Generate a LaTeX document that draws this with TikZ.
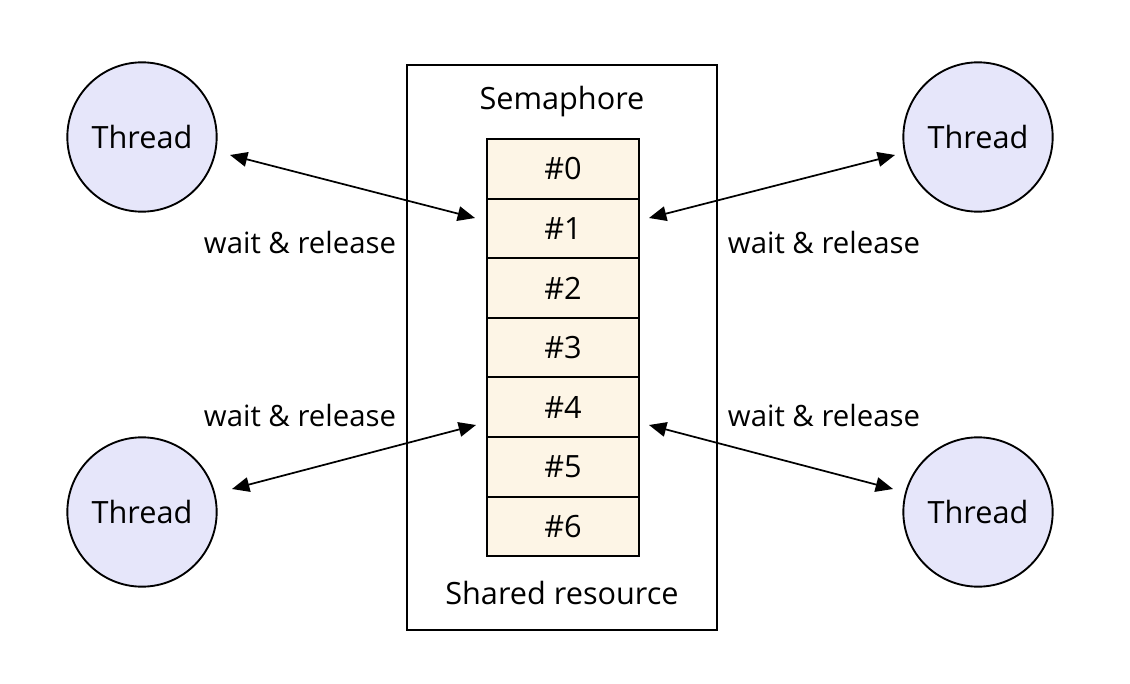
\documentclass[tikz,border=0pt]{standalone}
\usepackage{fontspec}
\setmainfont{Open Sans}
\usetikzlibrary{arrows.meta}
\definecolor{threadfill}{HTML}{E6E6FA}
\definecolor{cellfill}{HTML}{FDF5E6}
\begin{document}
\begin{tikzpicture}[x=0.75pt,y=-0.75pt,
  thread/.style={circle,draw,line width=1.4pt,fill=threadfill,minimum size=112pt,inner sep=0pt,font=\fontsize{23}{27}\selectfont},
  cell/.style={draw,line width=1.4pt,fill=cellfill,minimum width=114pt,minimum height=44.7pt,inner sep=0pt,font=\fontsize{23}{27}\selectfont},
  outerbox/.style={draw,line width=1.4pt,minimum width=232.5pt,minimum height=424pt,inner sep=0pt},
  lbl/.style={font=\fontsize{22}{26}\selectfont,inner sep=0pt},
  conn/.style={{Triangle[length=13pt,width=11pt]}-{Triangle[length=13pt,width=11pt]},line width=1.3pt}
]
\useasboundingbox (0,0) rectangle (1130,684);
\node[outerbox] (box) at (562,347.5) {};
\node[lbl,font=\fontsize{23}{27}\selectfont] (sem) at (562,102) {Semaphore};
\node[lbl,font=\fontsize{23}{27}\selectfont] (shr) at (562,593) {Shared resource};
\foreach \i in {0,...,6}{
  \node[cell] (c\i) at (563,168.8+59.6*\i) {\#\i};
}
\node[thread] (tl) at (142,137) {Thread};
\node[thread] (tr) at (978,137) {Thread};
\node[thread] (bl) at (142,512) {Thread};
\node[thread] (br) at (978,512) {Thread};
\coordinate (a1) at (230,155);
\coordinate (a2) at (475,218);
\coordinate (b1) at (895,155);
\coordinate (b2) at (649,218);
\coordinate (d1) at (232,489);
\coordinate (d2) at (476,425);
\coordinate (e1) at (893,489);
\coordinate (e2) at (649,425);
\draw[conn] (a1) -- (a2);
\draw[conn] (b1) -- (b2);
\draw[conn] (d1) -- (d2);
\draw[conn] (e1) -- (e2);
\node[lbl] (w1) at (300,242) {wait \& release};
\node[lbl] (w2) at (824,242) {wait \& release};
\node[lbl] (w3) at (300,415) {wait \& release};
\node[lbl] (w4) at (824,415) {wait \& release};
\end{tikzpicture}
\end{document}
